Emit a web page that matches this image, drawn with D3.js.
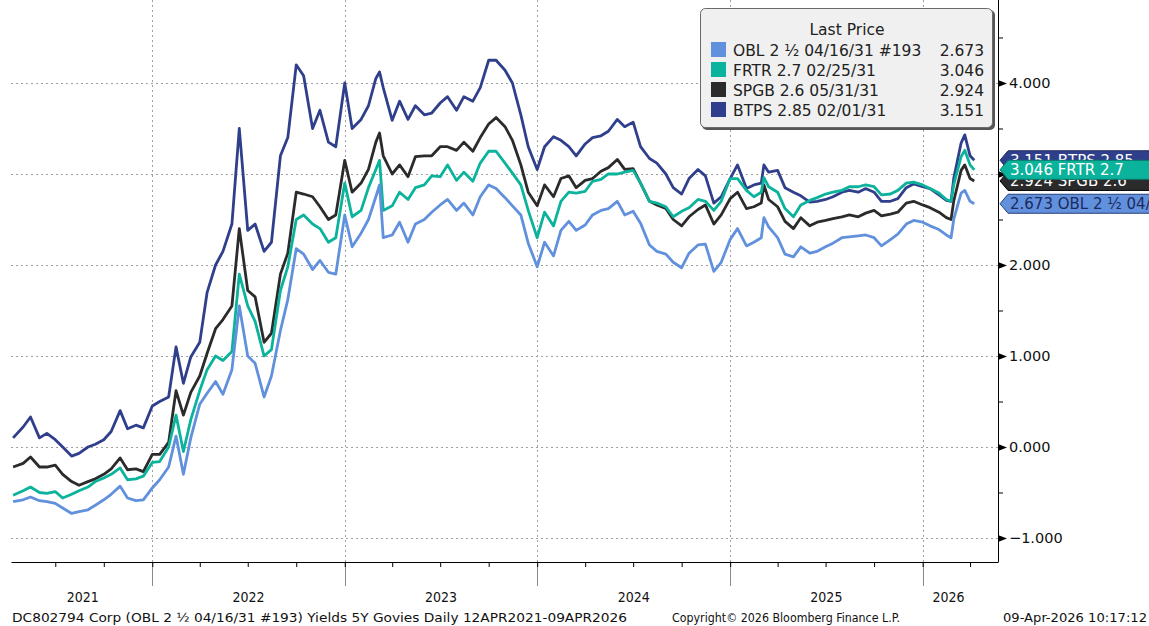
<!DOCTYPE html>
<html>
<head>
<meta charset="utf-8">
<script src="https://cdn.jsdelivr.net/npm/d3@7"></script>
<style>
  body { margin: 0; background: #fff; }
  svg { display: block; }
</style>
</head>
<body>
<div id="chart"></div>
<script>
// 5Y govies yields, semi-monthly samples
const dates = [
  "2021-04-12","2021-05-01","2021-05-15","2021-06-01","2021-06-15","2021-07-01","2021-07-15","2021-08-01","2021-08-15","2021-09-01",
  "2021-09-15","2021-10-01","2021-10-15","2021-11-01","2021-11-15","2021-12-01","2021-12-15","2022-01-01","2022-01-15","2022-02-01",
  "2022-02-15","2022-03-01","2022-03-15","2022-04-01","2022-04-15","2022-05-01","2022-05-15","2022-06-01","2022-06-15","2022-07-01",
  "2022-07-15","2022-08-01","2022-08-15","2022-09-01","2022-09-15","2022-10-01","2022-10-15","2022-11-01","2022-11-15","2022-12-01",
  "2022-12-15","2023-01-01","2023-01-15","2023-02-01","2023-02-15","2023-03-01","2023-03-08","2023-03-15","2023-04-01","2023-04-15",
  "2023-05-01","2023-05-15","2023-06-01","2023-06-15","2023-07-01","2023-07-15","2023-08-01","2023-08-15","2023-09-01","2023-09-15",
  "2023-10-01","2023-10-15","2023-11-01","2023-11-15","2023-12-01","2023-12-15","2024-01-01","2024-01-15","2024-02-01","2024-02-15",
  "2024-03-01","2024-03-15","2024-04-01","2024-04-15","2024-05-01","2024-05-15","2024-06-01","2024-06-15","2024-07-01","2024-07-15",
  "2024-08-01","2024-08-15","2024-09-01","2024-09-15","2024-10-01","2024-10-15","2024-11-01","2024-11-15","2024-12-01","2024-12-15",
  "2025-01-01","2025-01-15","2025-02-01","2025-02-15","2025-03-01","2025-03-06","2025-03-15","2025-04-01","2025-04-15","2025-05-01",
  "2025-05-15","2025-06-01","2025-06-15","2025-07-01","2025-07-15","2025-08-01","2025-08-15","2025-09-01","2025-09-15","2025-10-01",
  "2025-10-15","2025-11-01","2025-11-15","2025-12-01","2025-12-15","2026-01-01","2026-01-15","2026-02-01","2026-02-15","2026-02-24",
  "2026-03-01","2026-03-15","2026-03-22","2026-04-01","2026-04-09"
]

const obl = [
  -0.60,-0.58,-0.55,-0.59,-0.60,-0.62,-0.67,-0.73,-0.71,-0.69,
  -0.64,-0.58,-0.52,-0.43,-0.56,-0.59,-0.58,-0.45,-0.36,-0.22,
  0.12,-0.30,0.10,0.47,0.59,0.72,0.58,0.85,1.55,1.00,
  0.92,0.55,0.78,1.28,1.62,2.18,2.12,1.95,2.05,1.92,
  1.90,2.55,2.20,2.35,2.50,2.75,2.88,2.30,2.33,2.47,
  2.25,2.45,2.50,2.58,2.66,2.72,2.60,2.68,2.55,2.75,
  2.88,2.84,2.74,2.65,2.55,2.24,1.98,2.25,2.10,2.38,
  2.48,2.38,2.44,2.55,2.60,2.62,2.70,2.55,2.59,2.46,
  2.22,2.15,2.12,2.03,1.97,2.13,2.22,2.23,1.93,2.03,
  2.28,2.40,2.21,2.25,2.30,2.52,2.42,2.30,2.12,2.09,
  2.20,2.13,2.15,2.20,2.24,2.30,2.31,2.32,2.33,2.30,
  2.21,2.28,2.34,2.45,2.49,2.47,2.43,2.39,2.33,2.30,
  2.50,2.79,2.82,2.70,2.673
]

const frtr = [
  -0.53,-0.48,-0.44,-0.50,-0.51,-0.49,-0.56,-0.52,-0.48,-0.44,
  -0.38,-0.34,-0.30,-0.23,-0.36,-0.35,-0.32,-0.17,-0.16,0.00,
  0.35,-0.05,0.30,0.62,0.85,1.00,0.95,1.05,1.90,1.55,
  1.38,1.00,1.07,1.72,1.98,2.50,2.55,2.45,2.40,2.25,
  2.30,2.90,2.53,2.60,2.85,3.05,3.15,2.60,2.65,2.80,
  2.72,2.85,2.88,2.98,2.97,3.10,2.93,3.02,2.92,3.12,
  3.25,3.25,3.12,3.01,2.88,2.60,2.30,2.58,2.43,2.70,
  2.80,2.79,2.81,2.92,2.94,3.00,3.00,3.02,3.04,2.90,
  2.70,2.68,2.64,2.53,2.59,2.63,2.72,2.70,2.60,2.70,
  2.95,2.95,2.82,2.75,2.80,2.96,2.86,2.80,2.62,2.53,
  2.66,2.71,2.74,2.78,2.80,2.82,2.86,2.86,2.88,2.86,
  2.77,2.78,2.82,2.90,2.91,2.88,2.84,2.79,2.72,2.70,
  2.88,3.19,3.26,3.10,3.046
]

const spgb = [
  -0.22,-0.18,-0.11,-0.22,-0.22,-0.20,-0.30,-0.38,-0.42,-0.38,
  -0.35,-0.30,-0.24,-0.12,-0.25,-0.24,-0.27,-0.08,-0.08,0.05,
  0.62,0.35,0.60,0.78,1.03,1.30,1.40,1.55,2.40,1.72,
  1.65,1.15,1.25,1.90,2.13,2.80,2.78,2.75,2.64,2.50,
  2.55,3.15,2.80,2.90,3.05,3.35,3.45,3.20,3.00,3.10,
  2.97,3.19,3.20,3.20,3.30,3.30,3.26,3.35,3.25,3.40,
  3.55,3.62,3.52,3.37,3.10,2.80,2.65,2.88,2.75,2.95,
  2.98,2.85,2.93,2.95,3.03,3.07,3.16,3.05,3.06,2.90,
  2.70,2.66,2.62,2.50,2.43,2.53,2.61,2.66,2.45,2.55,
  2.73,2.80,2.62,2.64,2.68,2.88,2.72,2.64,2.48,2.40,
  2.52,2.43,2.47,2.49,2.51,2.53,2.55,2.53,2.57,2.60,
  2.54,2.56,2.58,2.68,2.70,2.66,2.63,2.58,2.52,2.50,
  2.70,3.04,3.10,2.95,2.924
]

const btps = [
  0.10,0.22,0.33,0.10,0.15,0.08,0.00,-0.10,-0.07,0.00,
  0.03,0.08,0.17,0.40,0.20,0.24,0.21,0.45,0.50,0.55,
  1.10,0.70,0.99,1.15,1.70,2.00,2.15,2.45,3.50,2.38,
  2.45,2.15,2.25,3.20,3.40,4.20,4.08,3.50,3.70,3.35,
  3.30,4.00,3.50,3.60,3.75,4.05,4.12,3.95,3.59,3.80,
  3.60,3.75,3.65,3.67,3.78,3.85,3.70,3.85,3.80,3.95,
  4.25,4.25,4.14,4.00,3.65,3.30,3.05,3.30,3.41,3.37,
  3.30,3.20,3.33,3.40,3.42,3.47,3.60,3.52,3.57,3.30,
  3.17,3.12,3.00,2.85,2.78,2.95,3.05,2.98,2.68,2.75,
  2.95,3.10,2.84,2.88,2.90,3.10,3.02,3.04,2.85,2.80,
  2.76,2.69,2.70,2.72,2.75,2.80,2.82,2.80,2.84,2.80,
  2.70,2.70,2.73,2.85,2.89,2.86,2.84,2.77,2.71,2.70,
  2.95,3.34,3.43,3.20,3.151
]

const seriesNames = ["OBL 2 \u00BD 04/16/31 #193", "FRTR 2.7 02/25/31", "SPGB 2.6 05/31/31", "BTPS 2.85 02/01/31"]
const tagNames = ["OBL 2 \u00BD 04/16/31", "FRTR 2.7", "SPGB 2.6", "BTPS 2.85"]
const lastPrices = [2.673, 3.046, 2.924, 3.151]
const colors = ["#6190dd", "#0bb39c", "#2b2b2b", "#2f3f8b"]
const yTickValues = [-1, 0, 1, 2, 3, 4]
const years = [2021, 2022, 2023, 2024, 2025, 2026]

const width = 1149
const height = 626
const plotLeft = 11, plotRight = 998, plotTop = 0, plotBottom = 562

const parse = d3.timeParse("%Y-%m-%d")
const dateObjs = dates.map(parse)
const seriesVals = [obl, frtr, spgb, btps]

const x = d3.scaleTime()
  .domain([new Date(2021, 3, 8), new Date(2026, 4, 24)])
  .range([plotLeft, plotRight])
const y = d3.scaleLinear()
  .domain([-1.2637, 4.912])
  .range([plotBottom, plotTop])

const svg = d3.select("#chart").append("svg")
  .attr("width", width)
  .attr("height", height)
  .style("font-family", "'DejaVu Sans', sans-serif")

svg.append("defs").append("clipPath").attr("id", "plot")
  .append("rect").attr("x", plotLeft).attr("y", plotTop)
  .attr("width", plotRight - plotLeft).attr("height", plotBottom - plotTop)

// grid
const yearStarts = years.slice(1).map(yr => new Date(yr, 0, 1))
svg.append("g").selectAll("line.vgrid")
  .data(yearStarts)
  .enter().append("line")
    .attr("class", "vgrid")
    .attr("x1", d => Math.round(x(d)) + 0.5).attr("x2", d => Math.round(x(d)) + 0.5)
    .attr("y1", plotTop).attr("y2", plotBottom)
    .attr("stroke", "#a0a0a0").attr("stroke-dasharray", "2,3")
svg.append("g").selectAll("line.hgrid")
  .data(yTickValues)
  .enter().append("line")
    .attr("class", "hgrid")
    .attr("x1", plotLeft).attr("x2", plotRight)
    .attr("y1", d => Math.round(y(d)) + 0.5).attr("y2", d => Math.round(y(d)) + 0.5)
    .attr("stroke", "#a0a0a0").attr("stroke-dasharray", "2,3")

// year separators below the axis
svg.append("g").selectAll("line.sep")
  .data(yearStarts)
  .enter().append("line")
    .attr("x1", d => Math.round(x(d)) + 0.5).attr("x2", d => Math.round(x(d)) + 0.5)
    .attr("y1", plotBottom).attr("y2", 586)
    .attr("stroke", "#8a8a8a")

// lines, last series first so OBL ends up on top
const line = d3.line()
  .x((d, i) => x(dateObjs[i]))
  .y(d => y(d))

svg.append("g").attr("clip-path", "url(#plot)")
  .selectAll("path.series")
  .data(d3.range(seriesVals.length).reverse())
  .enter().append("path")
    .attr("class", "series")
    .attr("d", i => line(seriesVals[i]))
    .attr("fill", "none")
    .attr("stroke", i => colors[i])
    .attr("stroke-width", 2.8)
    .attr("stroke-linejoin", "round")

// bottom axis with quarterly ticks
const xAxis = d3.axisBottom(x)
  .ticks(d3.timeMonth.every(3))
  .tickFormat("")
  .tickSize(5)
  .tickSizeOuter(0)
const gx = svg.append("g").attr("transform", `translate(0,${plotBottom})`).call(xAxis)
gx.select(".domain").attr("stroke", "#000")
gx.selectAll(".tick line").attr("stroke", "#000")

const lastDate = dateObjs[dateObjs.length - 1]
svg.append("g").selectAll("text.year")
  .data(years)
  .enter().append("text")
    .attr("x", yr => {
      const a = Math.max(x(new Date(yr, 0, 1)), x(dateObjs[0]))
      const b = Math.min(x(new Date(yr + 1, 0, 1)), x(lastDate))
      return (a + b) / 2
    })
    .attr("y", 602)
    .attr("text-anchor", "middle")
    .attr("font-size", 14)
    .attr("font-family", "'DejaVu Sans Condensed', 'DejaVu Sans', sans-serif")
    .attr("font-stretch", "condensed")
    .attr("fill", "#111")
    .text(d => d)

// right axis
const minorTicks = d3.range(-1, 4.51, 0.5)
const yAxis = d3.axisRight(y)
  .tickValues(minorTicks)
  .tickFormat("")
  .tickSize(5)
  .tickSizeOuter(0)
const gy = svg.append("g").attr("transform", `translate(${plotRight},0)`).call(yAxis)
gy.select(".domain").attr("stroke", "#000").attr("d", `M0.5,${plotTop}V${plotBottom}`)
gy.selectAll(".tick line").attr("stroke", "#000")

const gLab = svg.append("g")
gLab.selectAll("path.marker")
  .data(yTickValues)
  .enter().append("path")
    .attr("d", d => {
      const yy = Math.round(y(d)) + 0.5
      return `M${plotRight},${yy - 3.5}L${plotRight + 9},${yy}L${plotRight},${yy + 3.5}Z`
    })
    .attr("fill", "#000")
gLab.selectAll("text")
  .data(yTickValues)
  .enter().append("text")
    .attr("x", plotRight + 11)
    .attr("y", d => y(d) + 5)
    .attr("font-size", 14.5)
    .attr("fill", "#111")
    .text(d => d3.format(".3f")(d).replace("-", "\u2212"))

// last price tags: BTPS, SPGB, FRTR, OBL drawn in that order
const tagOrder = [3, 2, 1, 0]
const tagText = ["#1c2a5c", "#ffffff", "#ffffff", "#ffffff"]
const tagStroke = ["#2a3f7a", "#087a6a", "#000000", "#1d2a60"]
const tags = svg.append("g").selectAll("g.tag")
  .data(tagOrder)
  .enter().append("g")
    .attr("class", "tag")
    .attr("transform", i => `translate(0,${y(lastPrices[i])})`)
tags.append("path")
  .attr("d", `M${plotRight + 2},0L${plotRight + 10},-9.5H${width + 2}V9.5H${plotRight + 10}Z`)
  .attr("fill", i => colors[i])
  .attr("stroke", i => tagStroke[i])
tags.append("text")
  .attr("x", plotRight + 12)
  .attr("y", 5.5)
  .attr("font-size", 15)
  .attr("fill", i => tagText[i])
  .text(i => `${d3.format(".3f")(lastPrices[i])} ${tagNames[i]}`)

// legend
const lg = svg.append("g").attr("transform", "translate(700,8)")
lg.append("rect")
  .attr("x", 2).attr("y", 2).attr("width", 293).attr("height", 120).attr("rx", 5)
  .attr("fill", "#555")
lg.append("rect")
  .attr("x", 0.5).attr("y", 0.5).attr("width", 292).attr("height", 119).attr("rx", 5)
  .attr("fill", "#f0f0f0").attr("stroke", "#6a6a6a")
lg.append("text")
  .attr("x", 147).attr("y", 27)
  .attr("text-anchor", "middle")
  .attr("font-size", 15.5)
  .attr("fill", "#222")
  .text("Last Price")
const rows = lg.selectAll("g.row")
  .data(seriesNames)
  .enter().append("g")
    .attr("class", "row")
    .attr("transform", (d, i) => `translate(0,${34 + i * 20})`)
rows.append("rect")
  .attr("x", 11).attr("y", 0).attr("width", 15).attr("height", 15)
  .attr("fill", (d, i) => colors[i])
rows.append("text")
  .attr("x", 33).attr("y", 13.5)
  .attr("font-size", 15.5)
  .attr("fill", "#222")
  .text(d => d)
rows.append("text")
  .attr("x", 284).attr("y", 13.5)
  .attr("text-anchor", "end")
  .attr("font-size", 15.5)
  .attr("fill", "#222")
  .text((d, i) => d3.format(".3f")(lastPrices[i]))

// footer
const footer = [
  { text: "DC802794 Corp (OBL 2 \u00BD 04/16/31 #193) Yields 5Y Govies Daily 12APR2021-09APR2026", x: 12, w: 615 },
  { text: "Copyright\u00A9 2026 Bloomberg Finance L.P.", x: 672, w: 228 },
  { text: "09-Apr-2026 10:17:12", x: 1003, w: 144 }
]
svg.append("g").selectAll("text")
  .data(footer)
  .enter().append("text")
    .attr("x", d => d.x)
    .attr("y", 622)
    .attr("font-size", 13)
    .attr("font-family", "'DejaVu Sans Condensed', 'DejaVu Sans', sans-serif")
    .attr("font-stretch", "condensed")
    .attr("textLength", d => d.w)
    .attr("lengthAdjust", "spacingAndGlyphs")
    .attr("fill", "#111")
    .text(d => d.text)
</script>
</body>
</html>
